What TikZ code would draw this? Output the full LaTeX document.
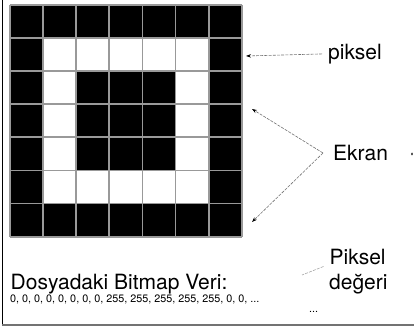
\documentclass[tikz,border=0pt]{standalone}
\usepackage{fontspec}
\setmainfont{TeX Gyre Heros}
\usetikzlibrary{arrows.meta}
\begin{document}
\begin{tikzpicture}[x=1pt,y=-1pt,
  big/.style={font=\fontsize{21}{25}\selectfont, inner sep=0pt, anchor=base west},
  small/.style={font=\fontsize{10.8}{13}\selectfont, inner sep=0pt, anchor=base west},
  pointer/.style={draw=black!55, line width=0.6pt, dash pattern=on 3pt off 1.2pt, -{Stealth[length=5pt,width=3.5pt,black]}},
  plainline/.style={draw=black!35, line width=0.6pt, dash pattern=on 3pt off 1.2pt},
  gridline/.style={draw=black!40, line width=1.8pt}]
\useasboundingbox (0,0) rectangle (414,328);
% bitmap grid
\fill[black] (10,5) rectangle (241.7,236.7);
\fill[white] (43.1,38.1) rectangle (208.6,203.6);
\fill[black] (76.2,71.2) rectangle (175.5,170.5);
\foreach \i in {0,...,7} {
  \draw[gridline] ({10+\i*33.1},5) -- ({10+\i*33.1},236.7);
  \draw[gridline] (10,{5+\i*33.1}) -- (241.7,{5+\i*33.1});
}
% texts
\node[big] (piksel) at (328,59.3) {piksel};
\node[big] (ekran) at (333,160.5) {Ekran};
\node[big] (pikselv) at (329.5,264.5) {Piksel};
\node[big] (degeri) at (329,289.5) {değeri};
\node[big] (dosya) at (10.5,289) {Dosyadaki Bitmap Veri:};
\node[small] (data) at (10,302.5) {0, 0, 0, 0, 0, 0, 0, 0, 255, 255, 255, 255, 255, 0, 0, ...};
\node[small] (dots) at (309,312) {...};
% targets
\coordinate (pxcell) at (246,56);
\coordinate (ek1) at (252,109);
\coordinate (ek2) at (252,222);
\coordinate (pvend) at (302,275);
% connectors
\draw[pointer] ([xshift=-6pt]piksel.west) -- (pxcell);
\draw[pointer] ([xshift=-10pt]ekran.west) -- (ek1);
\draw[pointer] ([xshift=-10pt]ekran.west) -- (ek2);
\draw[plainline] ([shift={(-6pt,-1.5pt)}]pikselv.south west) -- (pvend);
% stray mark
\fill[black] (412,154) ellipse (0.8 and 1.5);
% frame
\draw[black, line width=1pt] (2,0) -- (2,325);
\draw[black!55, line width=2pt] (2,325) -- (414,325);
\end{tikzpicture}
\end{document}
